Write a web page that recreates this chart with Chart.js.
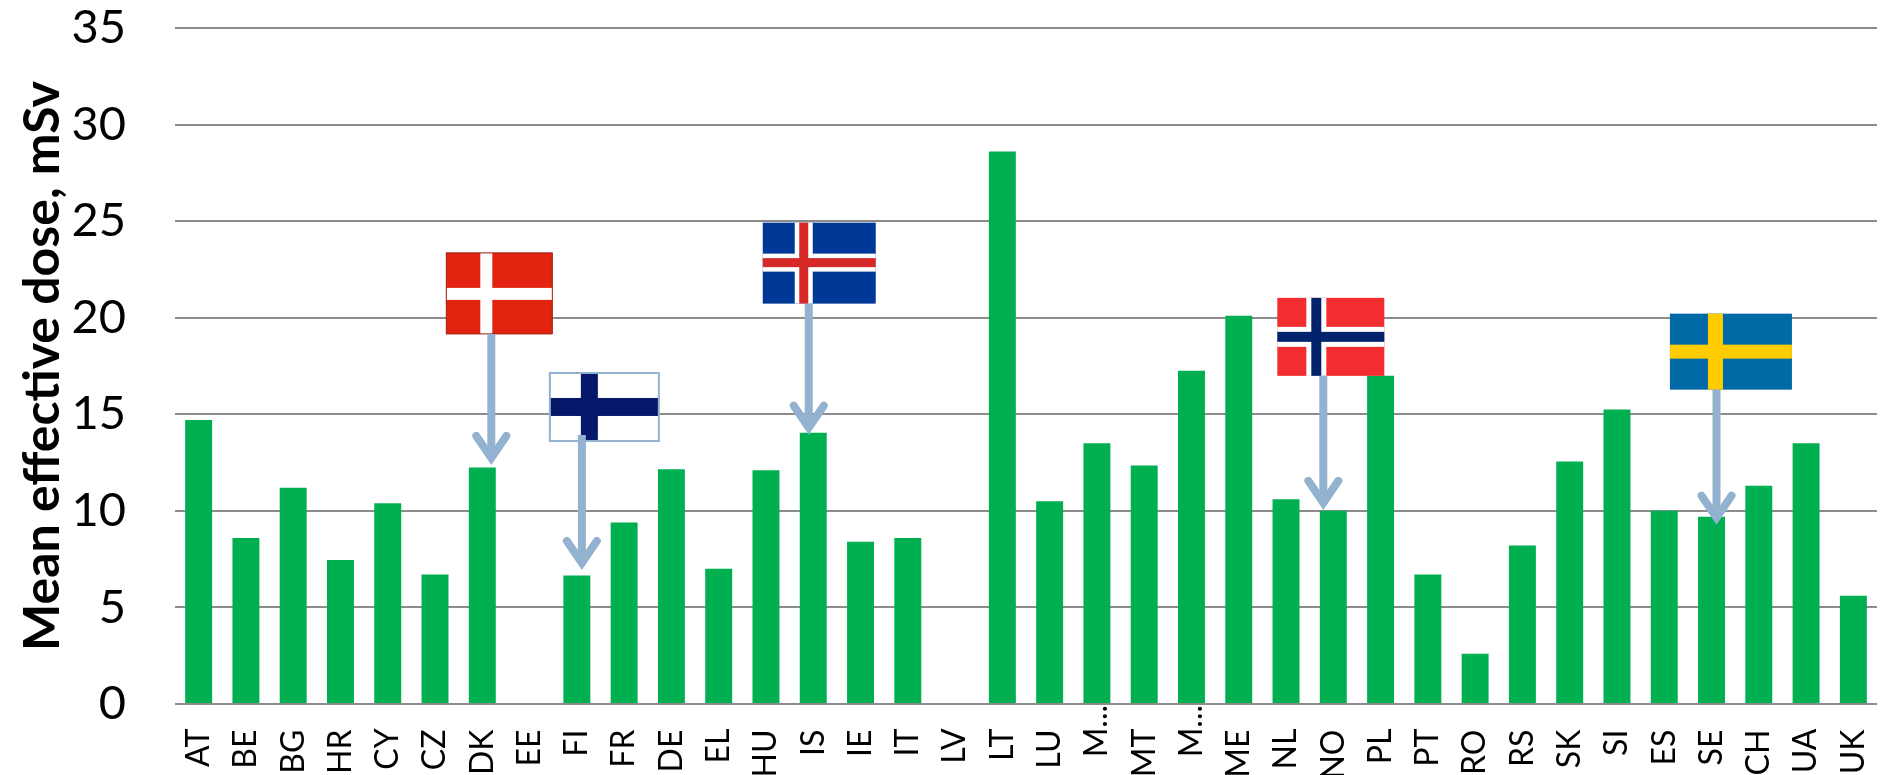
<!DOCTYPE html>
<html>
<head>
<meta charset="utf-8">
<script src="https://cdn.jsdelivr.net/npm/chart.js@4"></script>
<style>
    html, body { margin: 0; padding: 0; background: #fff; overflow: hidden; }
    canvas { display: block; }
</style>
</head>
<body>
<canvas id="dose-chart" width="1884" height="775"></canvas>
<script>
const countries = ['AT','BE','BG','HR','CY','CZ','DK','EE','FI','FR','DE','EL','HU','IS','IE','IT','LV','LT','LU','M...','MT','M...','ME','NL','NO','PL','PT','RO','RS','SK','SI','ES','SE','CH','UA','UK'];
const meanDose = [14.7,8.6,11.2,7.45,10.4,6.7,12.25,null,6.65,9.4,12.15,7.0,12.1,14.05,8.4,8.6,null,28.6,10.5,13.5,12.35,17.25,20.1,10.6,10.0,17.0,6.7,2.6,8.2,12.55,15.25,10.0,9.7,11.3,13.5,5.6];
const axisTitle = 'Mean effective dose, mSv';
const nordic = ['DK','FI','IS','NO','SE'];

// flag artwork and where it hangs relative to its bar
const flagStyles = {
    DK: { field: '#E1230F', outer: '#FFFFFF', inner: null, w: 106, h: 81, left: -45, vx: 34, vw: 12, hy: 35, hh: 12, stem: 131, tipGap: -2.5, dx: 9, line: '#A01A10' },
    FI: { field: '#FFFFFF', outer: '#07186B', inner: null, w: 109, h: 68, left: -32, vx: 31, vw: 17, hy: 25, hh: 18, stem: 129, tipGap: -5.6, dx: 5, line: '#92B2D0', overlap: 6 },
    IS: { field: '#003897', outer: '#FFFFFF', inner: '#D72828', w: 113, h: 81, left: -46, vx: 32, vw: 18, hy: 31, hh: 18, stem: 131, tipGap: 2, dx: -4.5 },
    NO: { field: '#F22D30', outer: '#FFFFFF', inner: '#00236B', w: 107, h: 78, left: -46, vx: 29, vw: 20, hy: 29, hh: 20, stem: 134, tipGap: -1, dx: -10 },
    SE: { field: '#006AA7', outer: '#FECC00', inner: null, w: 122, h: 76, left: -46.6, vx: 38, vw: 15, hy: 31, hh: 14, stem: 135, tipGap: 8, dx: 5 }
};

const flagArrows = {
    id: 'flagArrows',
    afterDatasetsDraw(chart) {
        const c = chart.ctx, xs = chart.scales.x, ys = chart.scales.y;
        nordic.forEach(code => {
            const f = flagStyles[code];
            const i = countries.indexOf(code);
            const ax = xs.getPixelForValue(i) + f.dx;
            const tip = ys.getPixelForValue(meanDose[i]) + f.tipGap;
            const bottom = tip - f.stem;
            const top = bottom - f.h;
            const left = ax + f.left;

            c.save();
            c.fillStyle = f.field;
            c.fillRect(left, top, f.w, f.h);
            c.fillStyle = f.outer;
            c.fillRect(left + f.vx, top, f.vw, f.h);
            c.fillRect(left, top + f.hy, f.w, f.hh);
            if (f.inner) {
                c.fillStyle = f.inner;
                c.fillRect(left + f.vx + f.vw / 4, top, f.vw / 2, f.h);
                c.fillRect(left, top + f.hy + f.hh / 4, f.w, f.hh / 2);
            }
            if (f.line) {
                c.strokeStyle = f.line;
                c.lineWidth = code === 'FI' ? 2 : 1;
                c.strokeRect(left, top, f.w, f.h);
            }

            // arrow
            c.strokeStyle = '#92B2D0';
            c.lineWidth = 8;
            c.beginPath();
            c.moveTo(ax, bottom - (f.overlap || 0));
            c.lineTo(ax, tip - 10);
            c.stroke();
            c.lineCap = 'round';
            c.lineJoin = 'miter';
            c.beginPath();
            c.moveTo(ax - 15, tip - 29);
            c.lineTo(ax, tip - 7);
            c.lineTo(ax + 15, tip - 29);
            c.stroke();
            c.restore();
        });
    }
};

new Chart(document.getElementById('dose-chart').getContext('2d'), {
    type: 'bar',
    data: {
        labels: countries,
        datasets: [{
            label: axisTitle,
            data: meanDose,
            backgroundColor: '#00B050',
            barPercentage: 0.57,
            categoryPercentage: 1
        }]
    },
    options: {
        responsive: false,
        animation: false,
        layout: { padding: { top: 28, right: 7, left: 0, bottom: 0 } },
        plugins: { legend: { display: false }, tooltip: { enabled: false } },
        scales: {
            x: {
                grid: { display: false },
                border: { display: false },
                afterFit: s => { s.height = 71; s.paddingLeft = 0; s.paddingRight = 0; },
                ticks: {
                    autoSkip: false,
                    minRotation: 90,
                    maxRotation: 90,
                    padding: -7,
                    color: '#000',
                    font: { family: 'Lato', size: 32 },
                    // the cut-off names sit closer to the axis than the others
                    callback: (v, i) => countries[i].length > 2 ? countries[i] : countries[i] + '\u00A0\u00A0\u00A0'
                }
            },
            y: {
                min: 0,
                max: 35,
                afterFit: s => { s.width = 175; s.paddingTop = 0; s.paddingBottom = 0; },
                grid: { color: '#8C8C8C', lineWidth: 2, drawTicks: false },
                border: { display: false },
                ticks: {
                    stepSize: 5,
                    padding: 49,
                    color: '#000',
                    font: { family: 'Lato', size: 47 }
                },
                title: {
                    display: true,
                    text: axisTitle,
                    color: '#000',
                    padding: { top: 13, bottom: 0 },
                    font: { family: 'Lato', size: 50, weight: 'bold' }
                }
            }
        }
    },
    plugins: [flagArrows]
});
</script>
</body>
</html>
